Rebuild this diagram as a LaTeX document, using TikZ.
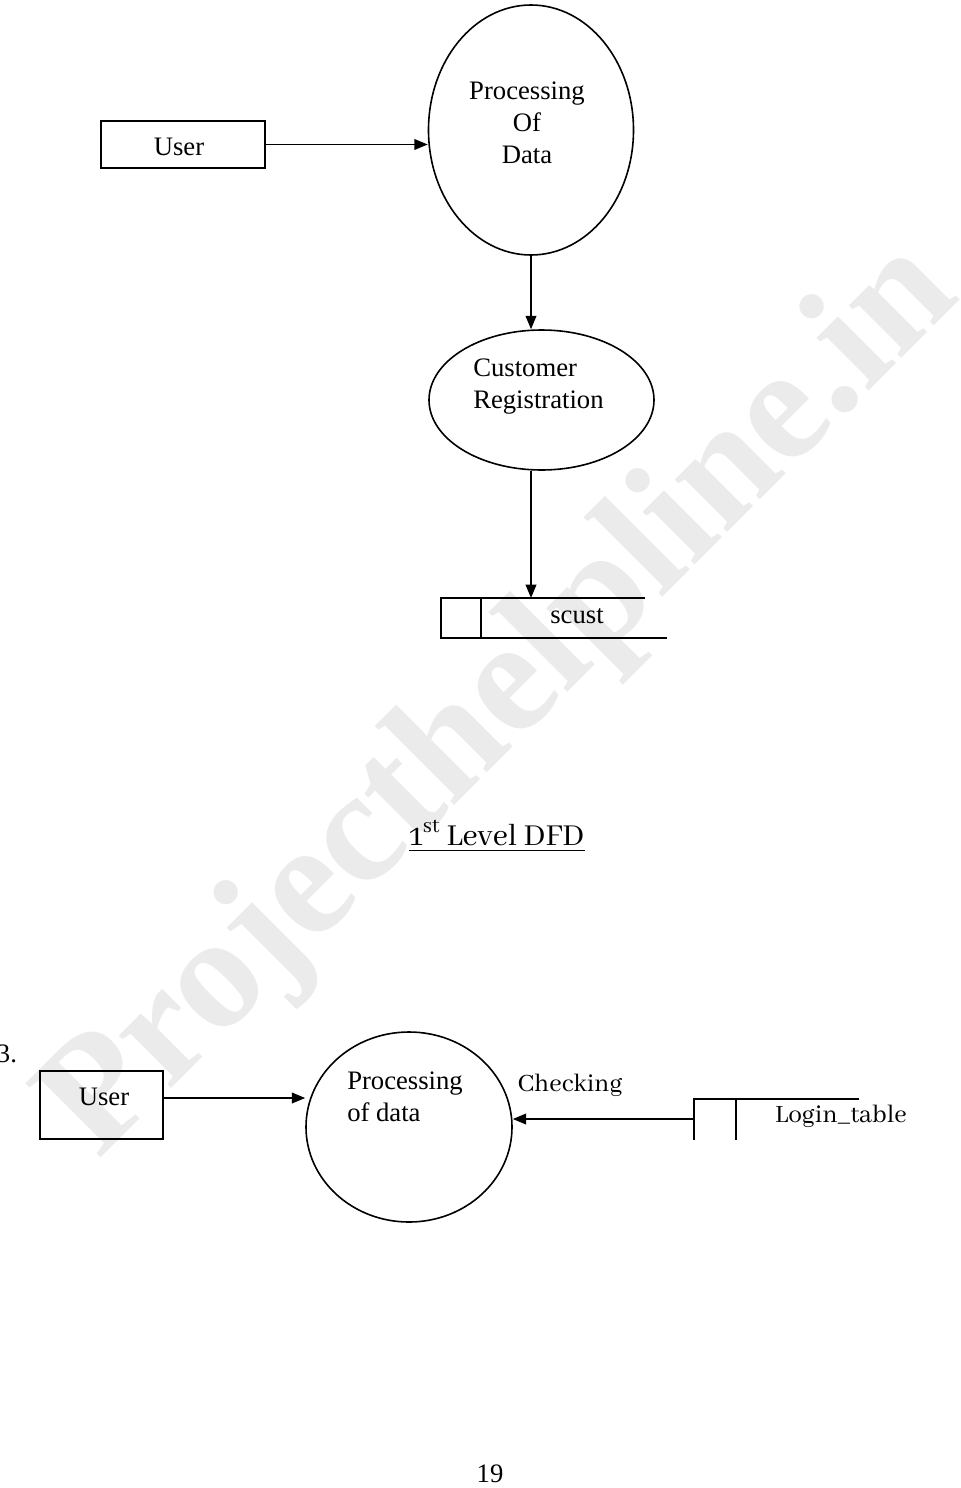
\documentclass[tikz,border=0pt]{standalone}
\usepackage{fontspec}
\setmainfont{Liberation Serif}
\newfontfamily\goudy{Abhaya Libre}
\usetikzlibrary{arrows.meta,shapes.geometric}
\tikzset{
  ln/.style={line width=1.2pt},
  arr/.style={ln,-{Triangle[length=10pt,width=8pt]}},
  boxnode/.style={ln,draw,rectangle,inner sep=0pt},
  proc/.style={ln,draw,ellipse,inner sep=0pt},
  lbl/.style={font=\fontsize{20}{24}\selectfont,inner sep=0pt},
  glbl/.style={font=\goudy\fontsize{20.5}{24}\selectfont,inner sep=0pt},
  wm/.style={font=\bfseries\fontsize{121}{121}\selectfont,text=gray!16,inner sep=0pt,rotate=45}
}
\begin{document}
\begin{tikzpicture}[x=0.75pt,y=-0.75pt]
\useasboundingbox (0,0) rectangle (960,1488);
\fill[white] (0,0) rectangle (960,1488);
% watermark
\node[wm] (wmark) at (503,702) {Projecthelpline.in};

% ---- top diagram ----
\node[boxnode,minimum width=123pt,minimum height=35.25pt] (user1) at (183,144.5) {};
\node[lbl] (user1txt) at (179,147) {User};
\node[proc,minimum width=153.75pt,minimum height=187.5pt] (proc1) at (531,130) {};
\node[lbl,align=center] (proc1txt) at (527,123) {Processing\\Of\\Data};
\node[proc,minimum width=168.75pt,minimum height=105pt] (cust) at (541.5,400) {};
\node[lbl,align=left,anchor=west] (custtxt) at (473,387) {Customer\\Registration};

\coordinate (s1a) at (441,598);
\coordinate (s1b) at (441,638);
\coordinate (s1c) at (481,598);
\coordinate (s1d) at (481,638);
\coordinate (s1e) at (645,598);
\coordinate (s1f) at (667,638);
\coordinate (s1in) at (531,598);
\draw[ln] (s1e) -- (s1a) -- (s1b) -- (s1f);
\draw[ln] (s1c) -- (s1d);
\node[lbl] (scust) at (577,616) {scust};

\draw[arr] (user1.east) -- (user1.east -| proc1.west);
\draw[arr] (proc1.south) -- (proc1.south |- cust.north);
\draw[arr] (proc1.south |- cust.south) -- (s1in);

% title
\node[font=\goudy\fontsize{25}{28}\selectfont,inner sep=0pt] (title) at (497,833) {1\textsuperscript{st} Level DFD};
\draw[line width=1.1pt] (title.south west) ++(0,5) coordinate (ul1) -- (ul1 -| title.south east);

% ---- bottom diagram ----
\node[lbl] (num3) at (7,1054) {3.};
\node[boxnode,minimum width=92.25pt,minimum height=51pt] (user2) at (101.5,1105) {};
\node[lbl] (user2txt) at (104,1097) {User};
\node[proc,minimum width=154.5pt,minimum height=142.5pt] (proc2) at (409,1127) {};
\node[lbl,align=left,anchor=west] (proc2txt) at (347,1097) {Processing\\of data};
\node[glbl] (chk) at (570,1085) {Checking};

\coordinate (s2a) at (694,1099);
\coordinate (s2b) at (694,1140);
\coordinate (s2c) at (736,1099);
\coordinate (s2d) at (736,1140);
\coordinate (s2e) at (859,1099);
\coordinate (s2out) at (694,1119);
\draw[ln] (s2e) -- (s2a) -- (s2b);
\draw[ln] (s2c) -- (s2d);
\node[glbl] (login) at (841,1116) {Login\_table};

\draw[arr] (user2txt.east -| user2.east) ++(0,1) coordinate (u2o) -- (u2o -| proc2.west);
\draw[arr] (s2out) -- (s2out -| proc2.east);

\node[lbl] (page) at (490,1474) {19};
\end{tikzpicture}
\end{document}
